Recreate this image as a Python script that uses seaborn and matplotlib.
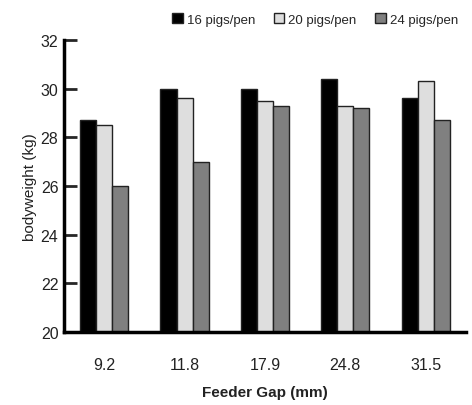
import matplotlib
matplotlib.use("Agg")
import matplotlib.pyplot as plt
import seaborn as sns
import pandas as pd
from matplotlib import font_manager
from matplotlib.patches import Patch

gaps = ["9.2", "11.8", "17.9", "24.8", "31.5"]
series_names = ["16 pigs/pen", "20 pigs/pen", "24 pigs/pen"]
pigs16 = [28.7, 30.0, 30.0, 30.4, 29.6]
pigs20 = [28.5, 29.6, 29.5, 29.3, 30.3]
pigs24 = [26.0, 27.0, 29.3, 29.2, 28.7]
colors = ["#000000", "#dedede", "#808080"]
yticks = [20, 22, 24, 26, 28, 30, 32]

rows = []
for name, vals in zip(series_names, [pigs16, pigs20, pigs24]):
    for g, v in zip(gaps, vals):
        rows.append({"gap": g, "group": name, "weight": v})
df = pd.DataFrame(rows)

sns.set_theme(style="white")
names = {f.name for f in font_manager.fontManager.ttflist}
fam = ["Liberation Sans Narrow"] if "Liberation Sans Narrow" in names else []
plt.rcParams["font.family"] = fam + ["Liberation Sans", "DejaVu Sans"]

fig = plt.figure(figsize=(4.72, 4.06), dpi=100)
ax = fig.add_axes([0.1356, 0.1798, 0.987 - 0.1356, 0.899 - 0.1798])
sns.barplot(data=df, x="gap", y="weight", hue="group", order=gaps,
            hue_order=series_names, palette=colors, width=0.6,
            edgecolor="#222222", linewidth=1.0, ax=ax, legend=False)

ax.set_ylim(20, 32)
ax.set_xlim(-0.5, 4.5)
ax.set_yticks(yticks)
ax.set_yticklabels([str(t) for t in yticks], fontsize=11.5, color="#222222")
ax.tick_params(axis="y", direction="in", length=9, width=2, pad=4, left=True)
ax.tick_params(axis="x", length=0, pad=18, labelsize=11.5, labelcolor="#222222")
for s in ["top", "right"]:
    ax.spines[s].set_visible(False)
for s in ["left", "bottom"]:
    ax.spines[s].set_linewidth(2.5)
    ax.spines[s].set_color("black")
ax.set_xlabel("Feeder Gap (mm)", fontsize=11, fontweight="bold", labelpad=9, color="#222222")
ax.set_ylabel("bodyweight (kg)", fontsize=11, labelpad=3, color="#222222")

handles = [Patch(facecolor=c, edgecolor="#222222", linewidth=1.0) for c in colors]
fig.legend(handles, series_names, loc="upper right", bbox_to_anchor=(0.995, 0.995),
           ncol=3, frameon=False, fontsize=9.5, handlelength=0.8, handleheight=0.8,
           handletextpad=0.3, columnspacing=1.4)

fig.savefig("out.png", dpi=100)
